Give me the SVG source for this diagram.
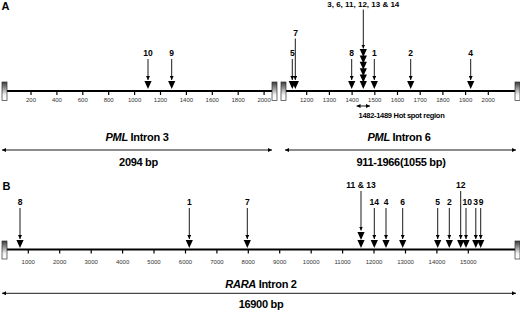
<svg xmlns="http://www.w3.org/2000/svg" width="520" height="311" viewBox="0 0 520 311">
<style>
.bg{fill:#fff}
.axis{stroke:#000;stroke-width:2;fill:none}
.tick{stroke:#000;stroke-width:1.2}
.tl{font-family:"Liberation Sans",Arial,sans-serif;font-size:6px;fill:#333;text-anchor:middle}
.num{font-family:"Liberation Sans",Arial,sans-serif;font-size:8.5px;font-weight:bold;fill:#000;text-anchor:middle}
.shaft{stroke:#000;stroke-width:0.9;fill:none;marker-end:url(#ah)}
.dbl{stroke:#000;stroke-width:0.9;fill:none;marker-start:url(#ah2);marker-end:url(#ah2)}
.ttl{font-family:"Liberation Sans",Arial,sans-serif;font-size:11px;font-weight:bold;fill:#000;text-anchor:middle;letter-spacing:-0.3px}
.pl{font-family:"Liberation Sans",Arial,sans-serif;font-size:11px;font-weight:bold;fill:#000}
.hs{font-family:"Liberation Sans",Arial,sans-serif;font-size:7.5px;font-weight:bold;fill:#000;text-anchor:middle;letter-spacing:-0.3px}
.box{fill:url(#gr);stroke:#333;stroke-width:0.7}
</style>
<defs>
<linearGradient id="gr" x1="0" y1="0" x2="0" y2="1">
<stop offset="0" stop-color="#3a3a3a"/>
<stop offset="0.7" stop-color="#f4f4f4"/>
<stop offset="1" stop-color="#ffffff"/>
</linearGradient>
<marker id="ah" viewBox="0 0 6 6" refX="6" refY="3" markerWidth="4" markerHeight="4" orient="auto" markerUnits="userSpaceOnUse"><path d="M0,0 L6,3 L0,6 Z" fill="#000"/></marker>
<marker id="ah2" viewBox="0 0 6 6" refX="6" refY="3" markerWidth="4" markerHeight="4" orient="auto-start-reverse" markerUnits="userSpaceOnUse"><path d="M0,0 L6,3 L0,6 Z" fill="#000"/></marker>
<path id="tri" d="M-3.6,-8 L3.6,-8 L0,0 Z" fill="#000"/>
</defs>
<rect class="bg" x="0" y="0" width="520" height="311"/>

<text class="pl" x="1.5" y="10">A</text>
<text class="pl" x="2.5" y="189.5">B</text>

<!-- Panel A, PML intron 3 -->
<g id="pml-intron3-track">
<line class="axis" x1="6" y1="91" x2="273" y2="91"/>
<g class="ticks">
<line class="tick" x1="31" y1="91" x2="31" y2="95"/>
<line class="tick" x1="56.9" y1="91" x2="56.9" y2="95"/>
<line class="tick" x1="82.8" y1="91" x2="82.8" y2="95"/>
<line class="tick" x1="108.7" y1="91" x2="108.7" y2="95"/>
<line class="tick" x1="134.6" y1="91" x2="134.6" y2="95"/>
<line class="tick" x1="160.5" y1="91" x2="160.5" y2="95"/>
<line class="tick" x1="186.4" y1="91" x2="186.4" y2="95"/>
<line class="tick" x1="212.3" y1="91" x2="212.3" y2="95"/>
<line class="tick" x1="238.2" y1="91" x2="238.2" y2="95"/>
<line class="tick" x1="264.1" y1="91" x2="264.1" y2="95"/>
</g>
<text class="tl" x="31" y="102">200</text>
<text class="tl" x="56.9" y="102">400</text>
<text class="tl" x="82.8" y="102">600</text>
<text class="tl" x="108.7" y="102">800</text>
<text class="tl" x="134.6" y="102">1000</text>
<text class="tl" x="160.5" y="102">1200</text>
<text class="tl" x="186.4" y="102">1400</text>
<text class="tl" x="212.3" y="102">1600</text>
<text class="tl" x="238.2" y="102">1800</text>
<text class="tl" x="264.1" y="102">2000</text>
<rect class="box" x="2" y="82" width="5" height="18.5"/>
<rect class="box" x="272" y="82" width="5" height="18.5"/>
</g>

<!-- Panel A, PML intron 6 -->
<g id="pml-intron6-track">
<line class="axis" x1="285" y1="91" x2="516" y2="91"/>
<line class="tick" x1="306.7" y1="91" x2="306.7" y2="95"/>
<line class="tick" x1="329.4" y1="91" x2="329.4" y2="95"/>
<line class="tick" x1="352.1" y1="91" x2="352.1" y2="95"/>
<line class="tick" x1="374.8" y1="91" x2="374.8" y2="95"/>
<line class="tick" x1="397.5" y1="91" x2="397.5" y2="95"/>
<line class="tick" x1="420.2" y1="91" x2="420.2" y2="95"/>
<line class="tick" x1="442.9" y1="91" x2="442.9" y2="95"/>
<line class="tick" x1="465.6" y1="91" x2="465.6" y2="95"/>
<line class="tick" x1="488.3" y1="91" x2="488.3" y2="95"/>
<text class="tl" x="306.7" y="102">1200</text>
<text class="tl" x="329.4" y="102">1300</text>
<text class="tl" x="352.1" y="102">1400</text>
<text class="tl" x="374.8" y="102">1500</text>
<text class="tl" x="397.5" y="102">1600</text>
<text class="tl" x="420.2" y="102">1700</text>
<text class="tl" x="442.9" y="102">1800</text>
<text class="tl" x="465.6" y="102">1900</text>
<text class="tl" x="488.3" y="102">2000</text>
<rect class="box" x="281" y="82" width="5" height="18.5"/>
<rect class="box" x="515" y="82" width="5" height="18.5"/>
</g>

<!-- Panel A mutations -->
<g id="a-mut-10">
<text class="num" x="148" y="56">10</text>
<line class="shaft" x1="148" y1="59" x2="148" y2="80"/>
<use href="#tri" x="148" y="89"/>
</g>
<g id="a-mut-9">
<text class="num" x="171.7" y="56">9</text>
<line class="shaft" x1="171.7" y1="59" x2="171.7" y2="80"/>
<use href="#tri" x="171.7" y="89"/>
</g>
<g id="a-mut-5">
<text class="num" x="292.3" y="56">5</text>
<line class="shaft" x1="292.3" y1="59" x2="292.3" y2="80"/>
<use href="#tri" x="292.3" y="89"/>
</g>
<g id="a-mut-7">
<text class="num" x="295.5" y="35.5">7</text>
<line class="shaft" x1="295.3" y1="38.5" x2="295.3" y2="80"/>
<use href="#tri" x="295.3" y="89"/>
</g>
<g id="a-mut-8">
<text class="num" x="351.7" y="56">8</text>
<line class="shaft" x1="351.7" y1="59" x2="351.7" y2="80"/>
<use href="#tri" x="351.7" y="89"/>
</g>
<g id="a-mut-stack">
<text class="num" x="363.3" y="6.5" style="font-size:8px">3, 6, 11, 12, 13 &amp; 14</text>
<line class="shaft" x1="363.3" y1="9.5" x2="363.3" y2="48.5"/>
<use href="#tri" x="363.3" y="57"/>
<use href="#tri" x="363.3" y="63.4"/>
<use href="#tri" x="363.3" y="69.8"/>
<use href="#tri" x="363.3" y="76.2"/>
<use href="#tri" x="363.3" y="82.6"/>
<use href="#tri" x="363.3" y="89"/>
</g>
<g id="a-mut-1">
<text class="num" x="374.3" y="56">1</text>
<line class="shaft" x1="374.3" y1="59" x2="374.3" y2="80"/>
<use href="#tri" x="374.3" y="89"/>
</g>
<g id="a-mut-2">
<text class="num" x="410.7" y="56">2</text>
<line class="shaft" x1="410.7" y1="59" x2="410.7" y2="80"/>
<use href="#tri" x="410.7" y="89"/>
</g>
<g id="a-mut-4">
<text class="num" x="470.7" y="56">4</text>
<line class="shaft" x1="470.7" y1="59" x2="470.7" y2="80"/>
<use href="#tri" x="470.7" y="89"/>
</g>

<g id="hotspot">
<line class="dbl" x1="356.5" y1="106" x2="370" y2="106"/>
<text class="hs" x="401.5" y="117.5">1482-1489 Hot spot region</text>
</g>

<g id="pml-intron3-label">
<text class="ttl" x="137" y="140.5"><tspan font-style="italic">PML</tspan> Intron 3</text>
<line class="dbl" x1="2" y1="150" x2="272" y2="150"/>
<text class="ttl" x="138.5" y="165.5">2094 bp</text>
</g>
<g id="pml-intron6-label">
<text class="ttl" x="399" y="140.5"><tspan font-style="italic">PML</tspan> Intron 6</text>
<line class="dbl" x1="285" y1="150" x2="516" y2="150"/>
<text class="ttl" x="401" y="165.5">911-1966(1055 bp)</text>
</g>

<!-- Panel B, RARA intron 2 -->
<g id="rara-intron2-track">
<line class="axis" x1="6" y1="249.5" x2="516" y2="249.5"/>
<line class="tick" x1="28.3" y1="249.5" x2="28.3" y2="253.5"/>
<line class="tick" x1="59.7" y1="249.5" x2="59.7" y2="253.5"/>
<line class="tick" x1="91.2" y1="249.5" x2="91.2" y2="253.5"/>
<line class="tick" x1="122.6" y1="249.5" x2="122.6" y2="253.5"/>
<line class="tick" x1="154" y1="249.5" x2="154" y2="253.5"/>
<line class="tick" x1="185.5" y1="249.5" x2="185.5" y2="253.5"/>
<line class="tick" x1="216.9" y1="249.5" x2="216.9" y2="253.5"/>
<line class="tick" x1="248.3" y1="249.5" x2="248.3" y2="253.5"/>
<line class="tick" x1="279.7" y1="249.5" x2="279.7" y2="253.5"/>
<line class="tick" x1="311.2" y1="249.5" x2="311.2" y2="253.5"/>
<line class="tick" x1="342.6" y1="249.5" x2="342.6" y2="253.5"/>
<line class="tick" x1="374" y1="249.5" x2="374" y2="253.5"/>
<line class="tick" x1="405.5" y1="249.5" x2="405.5" y2="253.5"/>
<line class="tick" x1="436.9" y1="249.5" x2="436.9" y2="253.5"/>
<line class="tick" x1="468.3" y1="249.5" x2="468.3" y2="253.5"/>
<text class="tl" x="28.3" y="264">1000</text>
<text class="tl" x="59.7" y="264">2000</text>
<text class="tl" x="91.2" y="264">3000</text>
<text class="tl" x="122.6" y="264">4000</text>
<text class="tl" x="154" y="264">5000</text>
<text class="tl" x="185.5" y="264">6000</text>
<text class="tl" x="216.9" y="264">7000</text>
<text class="tl" x="248.3" y="264">8000</text>
<text class="tl" x="279.7" y="264">9000</text>
<text class="tl" x="311.2" y="264">10000</text>
<text class="tl" x="342.6" y="264">11000</text>
<text class="tl" x="374" y="264">12000</text>
<text class="tl" x="405.5" y="264">13000</text>
<text class="tl" x="436.9" y="264">14000</text>
<text class="tl" x="468.3" y="264">15000</text>
<rect class="box" x="2" y="241" width="5" height="18"/>
<rect class="box" x="515" y="241" width="5" height="18"/>
</g>

<!-- Panel B mutations -->
<g id="b-mut-8">
<text class="num" x="20" y="205">8</text>
<line class="shaft" x1="20" y1="208" x2="20" y2="239"/>
<use href="#tri" x="20" y="248"/>
</g>
<g id="b-mut-1">
<text class="num" x="189.3" y="205">1</text>
<line class="shaft" x1="189.3" y1="208" x2="189.3" y2="239"/>
<use href="#tri" x="189.3" y="248"/>
</g>
<g id="b-mut-7">
<text class="num" x="247.3" y="205">7</text>
<line class="shaft" x1="247.3" y1="208" x2="247.3" y2="239"/>
<use href="#tri" x="247.3" y="248"/>
</g>
<g id="b-mut-11-13">
<text class="num" x="361" y="187.5">11 &amp; 13</text>
<line class="shaft" x1="361" y1="191" x2="361" y2="230.5"/>
<use href="#tri" x="361" y="240"/>
<use href="#tri" x="361" y="248"/>
</g>
<g id="b-mut-14">
<text class="num" x="374.3" y="205">14</text>
<line class="shaft" x1="374.3" y1="208" x2="374.3" y2="239"/>
<use href="#tri" x="374.3" y="248"/>
</g>
<g id="b-mut-4">
<text class="num" x="386" y="205">4</text>
<line class="shaft" x1="386" y1="208" x2="386" y2="239"/>
<use href="#tri" x="386" y="248"/>
</g>
<g id="b-mut-6">
<text class="num" x="402.7" y="205">6</text>
<line class="shaft" x1="402.7" y1="208" x2="402.7" y2="239"/>
<use href="#tri" x="402.7" y="248"/>
</g>
<g id="b-mut-5">
<text class="num" x="437.7" y="205">5</text>
<line class="shaft" x1="437.7" y1="208" x2="437.7" y2="239"/>
<use href="#tri" x="437.7" y="248"/>
</g>
<g id="b-mut-2">
<text class="num" x="449.3" y="205">2</text>
<line class="shaft" x1="449.3" y1="208" x2="449.3" y2="239"/>
<use href="#tri" x="449.3" y="248"/>
</g>
<g id="b-mut-12">
<text class="num" x="460.7" y="187.5">12</text>
<line class="shaft" x1="460.7" y1="191" x2="460.7" y2="239"/>
<use href="#tri" x="460.7" y="248"/>
</g>
<g id="b-mut-10">
<text class="num" x="467.3" y="205">10</text>
<line class="shaft" x1="466" y1="208" x2="466" y2="239"/>
<use href="#tri" x="466" y="248"/>
</g>
<g id="b-mut-3">
<text class="num" x="475.6" y="205">3</text>
<line class="shaft" x1="475.8" y1="208" x2="475.8" y2="239"/>
<use href="#tri" x="475.8" y="248"/>
</g>
<g id="b-mut-9">
<text class="num" x="481" y="205">9</text>
<line class="shaft" x1="480.7" y1="208" x2="480.7" y2="239"/>
<use href="#tri" x="480.7" y="248"/>
</g>

<g id="rara-intron2-label">
<text class="ttl" x="261" y="287.5"><tspan font-style="italic">RARA</tspan> Intron 2</text>
<line class="dbl" x1="2" y1="293.3" x2="516" y2="293.3"/>
<text class="ttl" x="261" y="308">16900 bp</text>
</g>
</svg>
